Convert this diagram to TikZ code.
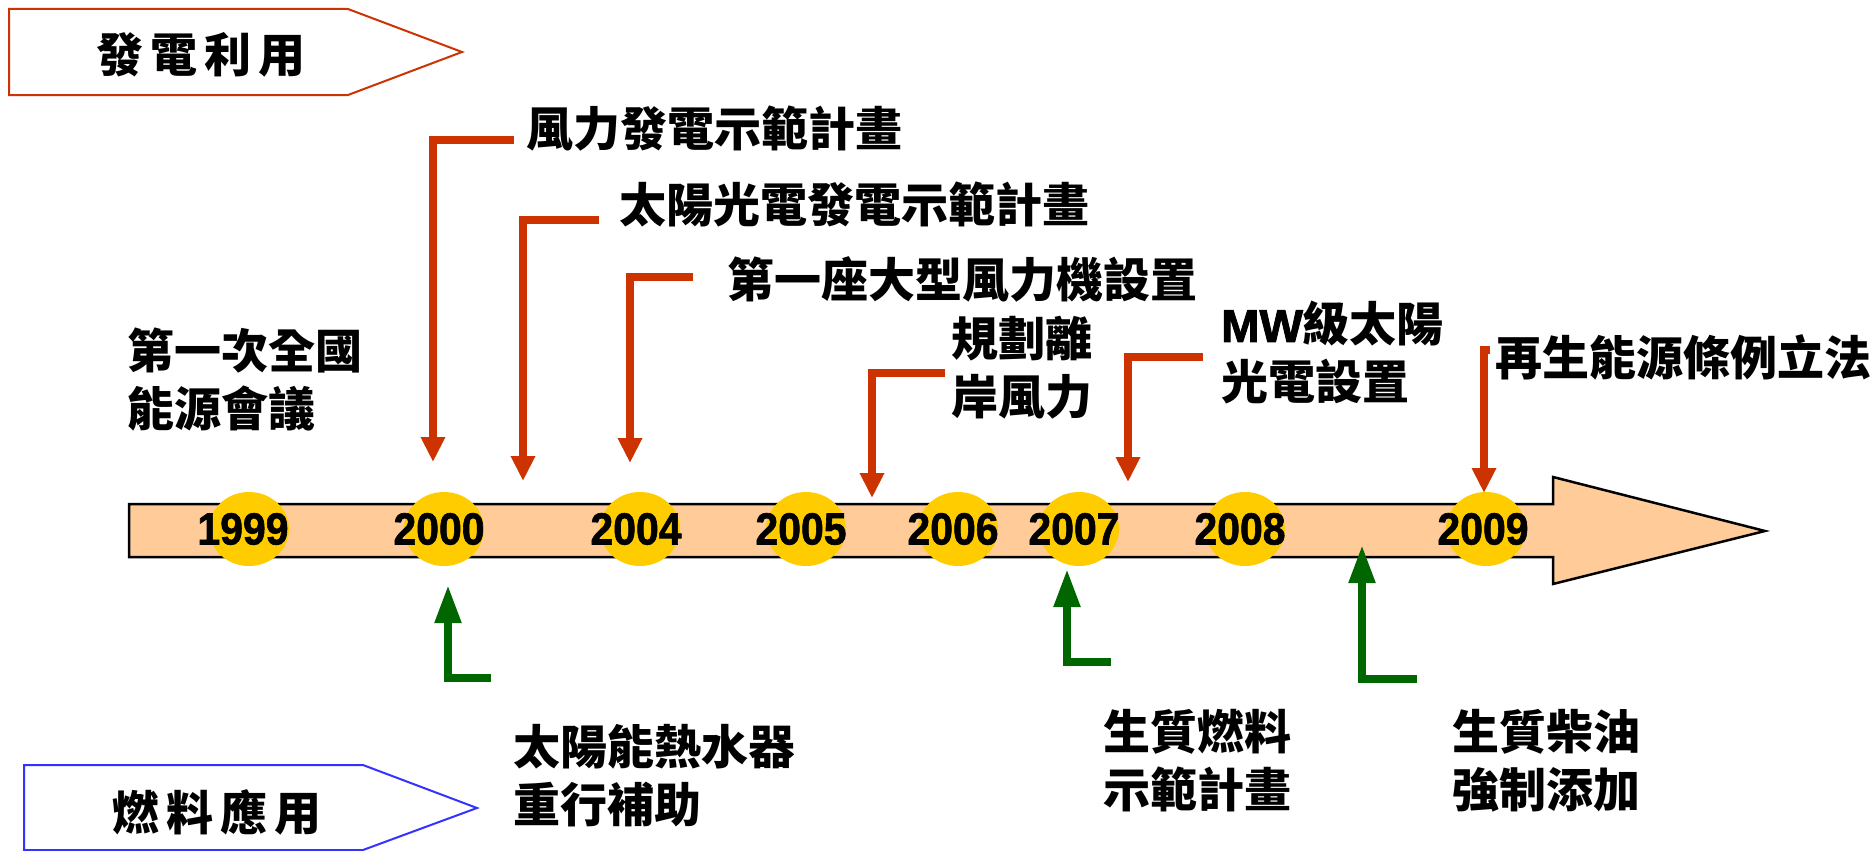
\documentclass[tikz,border=0pt]{standalone}
\usepackage{fontspec}
\newfontfamily\cjk{Noto Sans CJK TC}
\newfontfamily\latbb{Liberation Sans}[UprightFont={* Bold}, UprightFeatures={FakeBold=1.5}]
\newfontfamily\mwfont{Liberation Sans Bold}[FakeBold=2]
\usetikzlibrary{arrows.meta,shapes.geometric}
\definecolor{redc}{HTML}{CC3300}
\definecolor{grnc}{HTML}{006600}
\definecolor{yelc}{HTML}{FFCC00}
\definecolor{barc}{HTML}{FFCC99}
\definecolor{bluc}{HTML}{3333FF}
\begin{document}
\begin{tikzpicture}[x=1pt,y=-1pt,
  zh/.style={font=\cjk\bfseries\fontsize{47}{58}\selectfont, inner sep=0pt, anchor=west, align=left},
  yeartxt/.style={font=\latbb\mdseries\fontsize{45}{50}\selectfont, inner sep=0pt},
  yearball/.style={ellipse, fill=yelc, minimum width=80pt, minimum height=74pt, inner sep=0pt},
  redarr/.style={draw=redc, line width=7.5pt, line join=miter, -{Triangle[length=25pt,width=23pt]}},
  grnarr/.style={draw=grnc, line width=8pt, line join=miter, -{Triangle[length=38pt,width=25pt]}},
  banner/.style={line width=2pt, line join=miter, fill=white}
]
\useasboundingbox (0,0) rectangle (1874,851);

% banners
\draw[banner, draw=redc] (9,9) -- (348,9) -- (462,52) -- (348,95) -- (9,95) -- cycle;
\node[zh, anchor=center] (bn1) at (201,55) {發\hspace{7pt}電\hspace{7pt}利\hspace{7pt}用};
\draw[banner, draw=bluc] (24,765) -- (363,765) -- (477,808) -- (363,850) -- (24,850) -- cycle;
\node[zh, anchor=center] (bn2) at (217,812) {燃\hspace{7pt}料\hspace{7pt}應\hspace{7pt}用};

% timeline bar
\draw[fill=barc, draw=black, line width=2.5pt, line join=miter]
  (129,504) -- (1553,504) -- (1553,477) -- (1765,531) -- (1553,584) -- (1553,557) -- (129,557) -- cycle;

% year balls
\node[yearball] (e1999) at (249,529) {};
\node[yearball] (e2000) at (444,529) {};
\node[yearball] (e2004) at (640,529) {};
\node[yearball] (e2005) at (806,529) {};
\node[yearball] (e2006) at (958,529) {};
\node[yearball] (e2007) at (1079,529) {};
\node[yearball] (e2008) at (1245,529) {};
\node[yearball] (e2009) at (1486,529) {};
\node[yeartxt] (y1999) at (243,529) {\scalebox{0.91}[1]{1999}};
\node[yeartxt] (y2000) at (439,529) {\scalebox{0.91}[1]{2000}};
\node[yeartxt] (y2004) at (636,529) {\scalebox{0.91}[1]{2004}};
\node[yeartxt] (y2005) at (801,529) {\scalebox{0.91}[1]{2005}};
\node[yeartxt] (y2006) at (953,529) {\scalebox{0.91}[1]{2006}};
\node[yeartxt] (y2007) at (1074,529) {\scalebox{0.91}[1]{2007}};
\node[yeartxt] (y2008) at (1240,529) {\scalebox{0.91}[1]{2008}};
\node[yeartxt] (y2009) at (1483,529) {\scalebox{0.91}[1]{2009}};

% texts above
\node[zh] (t0) at (127,380) {第一次全國\\能源會議};
\node[zh] (t1) at (526,129) {風力發電示範計畫};
\node[zh] (t2) at (619,204) {太陽光電發電示範計畫};
\node[zh] (t3) at (727,279) {第一座大型風力機設置};
\node[zh] (t4) at (951,368) {規劃離\\岸風力};
\node[zh] (t5) at (1221,353) {\mwfont\mdseries\fontsize{46}{58}\selectfont MW\cjk\bfseries\fontsize{47}{58}\selectfont 級太陽\\光電設置};
\node[zh] (t6) at (1495,357) {再生能源條例立法};

% texts below
\node[zh] (b1) at (513,776) {太陽能熱水器\\重行補助};
\node[zh] (b2) at (1103,761) {生質燃料\\示範計畫};
\node[zh] (b3) at (1452,761) {生質柴油\\強制添加};

% red arrows
\coordinate (r1s) at (514,140);  \coordinate (r1e) at (433,462);
\coordinate (r2s) at (599,220);  \coordinate (r2e) at (523,481);
\coordinate (r3s) at (693,277);  \coordinate (r3e) at (630,463);
\coordinate (r4s) at (945,373);  \coordinate (r4e) at (872,498);
\coordinate (r5s) at (1203,357); \coordinate (r5e) at (1128,482);
\coordinate (r6s) at (1490,350); \coordinate (r6e) at (1484,493);
\draw[redarr] (r1s) -| (r1e);
\draw[redarr] (r2s) -| (r2e);
\draw[redarr] (r3s) -| (r3e);
\draw[redarr] (r4s) -| (r4e);
\draw[redarr] (r5s) -| (r5e);
\draw[redarr] (r6s) -| (r6e);

% green arrows
\coordinate (g1s) at (491,678);  \coordinate (g1e) at (448,585);
\coordinate (g2s) at (1111,662); \coordinate (g2e) at (1067,569);
\coordinate (g3s) at (1417,679); \coordinate (g3e) at (1362,545);
\draw[grnarr] (g1s) -| (g1e);
\draw[grnarr] (g2s) -| (g2e);
\draw[grnarr] (g3s) -| (g3e);
\end{tikzpicture}
\end{document}
